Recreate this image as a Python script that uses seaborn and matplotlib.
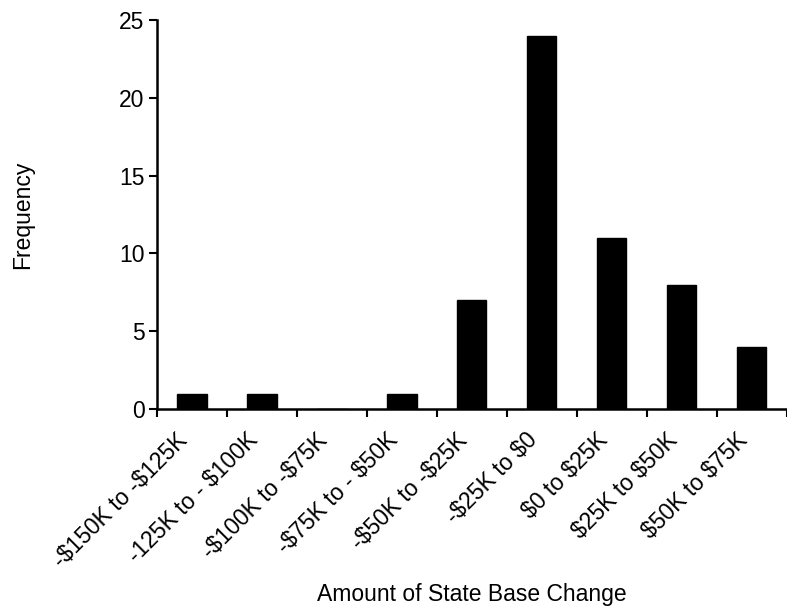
import matplotlib
matplotlib.use("Agg")
import matplotlib.pyplot as plt
import matplotlib.transforms as mtransforms
import seaborn as sns
import pandas as pd
import numpy as np

categories = ["-$150K to -$125K", "-125K to - $100K", "-$100K to -$75K",
              "-$75K to - $50K", "-$50K to -$25K", "-$25K to $0",
              "$0 to $25K", "$25K to $50K", "$50K to $75K"]
frequency = [1, 1, 0, 1, 7, 24, 11, 8, 4]
y_ticks = [0, 5, 10, 15, 20, 25]

sns.set_theme(style="white")
plt.rcParams['font.family'] = ['Liberation Sans', 'DejaVu Sans']
plt.rcParams['text.color'] = 'black'
plt.rcParams['axes.labelcolor'] = 'black'
plt.rcParams['xtick.color'] = 'black'
plt.rcParams['ytick.color'] = 'black'

df = pd.DataFrame({"cat": categories, "freq": frequency})

fig = plt.figure(figsize=(7.87, 6.07), dpi=100)
ax = fig.add_axes([0.1995, 0.326, 0.80, 0.641])

sns.barplot(data=df, x="cat", y="freq", color="black", width=0.42,
            saturation=1, ax=ax, edgecolor="black")

FS = 16.5
ax.set_xlim(-0.5, len(categories) - 0.5)
ax.set_ylim(0, 25)
ax.set_yticks(y_ticks)
ax.set_yticklabels([str(v) for v in y_ticks], fontsize=FS, color="black")

ax.set_xticks(np.arange(len(categories)))
ax.set_xticklabels([c.replace("$", r"\$") for c in categories], fontsize=FS,
                   rotation=45, ha="right", rotation_mode="anchor", color="black")
ax.set_xticks(np.arange(len(categories) + 1) - 0.5, minor=True)
ax.tick_params(axis="x", which="major", length=0, pad=14)
ax.tick_params(axis="x", which="minor", length=6, width=1.5, direction="out",
               color="black", bottom=True)
ax.tick_params(axis="y", length=6, width=1.5, direction="out", color="black",
               left=True, pad=3)

offset = mtransforms.ScaledTranslation(-16 / 100, 0, fig.dpi_scale_trans)
for lab in ax.xaxis.get_majorticklabels():
    lab.set_transform(lab.get_transform() + offset)

for s in ["top", "right"]:
    ax.spines[s].set_visible(False)
for s in ["left", "bottom"]:
    ax.spines[s].set_color("black")
    ax.spines[s].set_linewidth(1.8)

ax.set_xlabel("Amount of State Base Change", fontsize=FS, color="black")
ax.set_ylabel("Frequency", fontsize=FS, color="black")
ax.xaxis.set_label_coords(0.5, -0.447)
ax.yaxis.set_label_coords(-0.195, 0.5)

fig.savefig("out.png", dpi=100, facecolor="white")
